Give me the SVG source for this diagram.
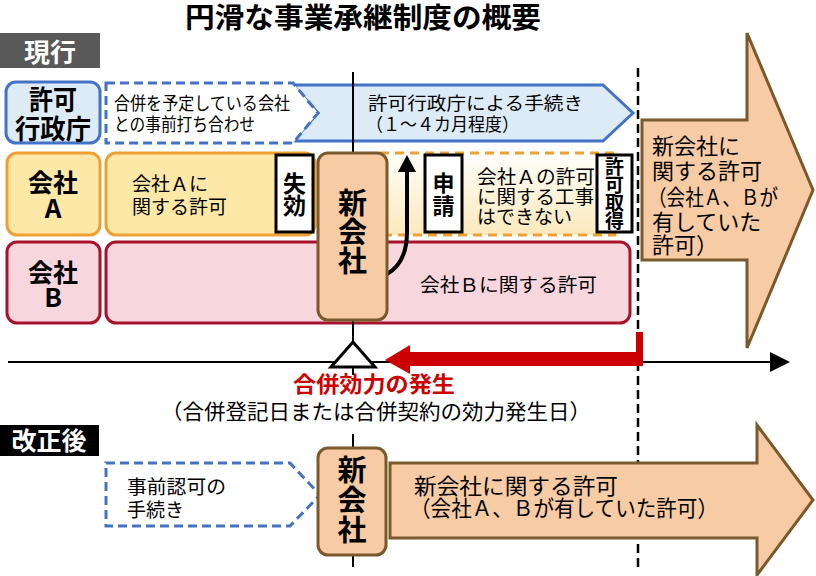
<svg xmlns="http://www.w3.org/2000/svg" width="816" height="576" viewBox="0 0 816 576">
<defs>
<style>
.t{font-family:"Noto Sans CJK JP","Noto Sans",sans-serif;fill:#000}
.b{font-weight:bold}
.bl{fill:#DDEBF7;stroke:#4472C4;stroke-width:3}
.bld{fill:#fff;stroke:#4472C4;stroke-width:3;stroke-dasharray:9 5}
.ya{fill:#FDE8A8;stroke:#EFA032;stroke-width:3}
.pk{fill:#F7D6DE;stroke:#A8122C;stroke-width:3}
.pe{fill:#F7CBA4;stroke:#7A5A2C;stroke-width:3}
.wb{fill:#fff;stroke:#000;stroke-width:3}
</style>
<linearGradient id="gA" x1="0" y1="0" x2="0" y2="1">
<stop offset="0" stop-color="#FFFEFA"/>
<stop offset="1" stop-color="#FBE9BD"/>
</linearGradient>
</defs>
<rect width="816" height="576" fill="#fff"/>

<g id="title"><text class="t b" x="363" y="28" font-size="28" text-anchor="middle" textLength="356" lengthAdjust="spacingAndGlyphs">円滑な事業承継制度の概要</text></g>

<g id="genko"><rect x="0" y="33" width="100" height="35" fill="#595959"/><text class="t b" x="50" y="62" font-size="26" text-anchor="middle" style="fill:#fff">現行</text></g>

<g id="gyosei-label"><rect class="bl" x="6" y="82" width="94" height="61" rx="10"/>
<text class="t b" font-size="27" text-anchor="middle"><tspan x="53" y="110" textLength="48" lengthAdjust="spacingAndGlyphs">許可</tspan><tspan x="53" y="139" textLength="76" lengthAdjust="spacingAndGlyphs">行政庁</tspan></text></g>

<g id="gyosei-proc"><path class="bl" d="M293,85 L603,85 L633,113 L603,141 L293,141 L318,113 Z"/>
<text class="t" font-size="18"><tspan x="368" y="110" textLength="215" lengthAdjust="spacingAndGlyphs">許可行政庁による手続き</tspan><tspan x="366" y="131" textLength="153" lengthAdjust="spacingAndGlyphs">（１～４カ月程度）</tspan></text></g>

<g id="pre-meeting"><path class="bld" d="M106,83 L293,83 L318,113 L293,143 L106,143 Z"/>
<text class="t" font-size="18"><tspan x="114" y="110" textLength="176" lengthAdjust="spacingAndGlyphs">合併を予定している会社</tspan><tspan x="114" y="131" textLength="141" lengthAdjust="spacingAndGlyphs">との事前打ち合わせ</tspan></text></g>

<g id="kaisha-a-label"><rect class="ya" x="7" y="153" width="93" height="82" rx="10"/>
<text class="t b" text-anchor="middle"><tspan x="53" y="192" font-size="25">会社</tspan><tspan x="53" y="218" font-size="26">A</tspan></text></g>

<g id="kaisha-a-permit"><rect class="ya" x="106" y="153" width="209" height="82" rx="10"/>
<text class="t" font-size="19"><tspan x="132" y="191">会社Ａに</tspan><tspan x="132" y="214">関する許可</tspan></text></g>

<g id="shikko"><rect class="wb" x="276" y="155" width="37" height="77"/>
<text class="t b" font-size="23" text-anchor="middle"><tspan x="294.5" y="192">失</tspan><tspan x="294.5" y="214">効</tspan></text></g>

<g id="kaisha-b-label"><rect class="pk" x="7" y="242" width="93" height="81" rx="10"/>
<text class="t b" text-anchor="middle"><tspan x="53" y="282" font-size="25">会社</tspan><tspan x="53" y="307" font-size="26">B</tspan></text></g>

<g id="kaisha-b-permit"><rect class="pk" x="106" y="242" width="524" height="81" rx="10"/>
<text class="t" x="420" y="292" font-size="19" textLength="177" lengthAdjust="spacingAndGlyphs">会社Ｂに関する許可</text></g>

<g id="a-pending"><rect x="380" y="153" width="235" height="82" fill="url(#gA)" stroke="#EFA032" stroke-width="3" stroke-dasharray="9 6"/>
<text class="t" font-size="19"><tspan x="477" y="184" textLength="118" lengthAdjust="spacingAndGlyphs">会社Ａの許可</tspan><tspan x="477" y="204" textLength="117" lengthAdjust="spacingAndGlyphs">に関する工事</tspan><tspan x="477" y="224">はできない</tspan></text></g>

<g id="connectors">
<line x1="353" y1="72" x2="353" y2="342" stroke="#000" stroke-width="2"/>
<line x1="353" y1="367" x2="353" y2="375" stroke="#000" stroke-width="2"/>
<line x1="353" y1="434" x2="353" y2="448" stroke="#000" stroke-width="2"/>
<line x1="353" y1="555" x2="353" y2="567" stroke="#000" stroke-width="2"/>
<line x1="638" y1="68" x2="638" y2="567" stroke="#000" stroke-width="2.5" stroke-dasharray="9 5"/>
<line x1="8" y1="362" x2="772" y2="362" stroke="#000" stroke-width="2"/>
<polygon points="770,352 790,362 770,372" fill="#000"/>
<path d="M385,360 L410,345 L410,352 L636,352 L636,332 L643,332 L643,366 L410,366 L410,374 Z" fill="#CC0000"/>
<path d="M387,274 C401,266 407,252 407,232 L407,170" fill="none" stroke="#000" stroke-width="4"/>
<polygon points="398,172 416,172 407,155" fill="#000"/>
</g>

<g id="shinsei"><rect class="wb" x="425" y="155" width="37" height="77"/>
<text class="t b" font-size="22" text-anchor="middle"><tspan x="443.5" y="191">申</tspan><tspan x="443.5" y="214">請</tspan></text></g>

<g id="kyoka-shutoku"><rect class="wb" x="597" y="155" width="35" height="77"/>
<text class="t b" font-size="19" text-anchor="middle"><tspan x="614.5" y="174">許</tspan><tspan x="614.5" y="192">可</tspan><tspan x="614.5" y="210">取</tspan><tspan x="614.5" y="228">得</tspan></text></g>

<g id="shinkaisha-top"><rect class="pe" x="318" y="153" width="69" height="167" rx="10"/>
<text class="t b" font-size="29" text-anchor="middle"><tspan x="352.5" y="214">新</tspan><tspan x="352.5" y="243">会</tspan><tspan x="352.5" y="272">社</tspan></text></g>

<g id="new-permit-top"><polygon class="pe" points="642,120 747,120 747,33 813,190 747,348 747,260 642,260"/>
<text class="t" font-size="22"><tspan x="652" y="154">新会社に</tspan><tspan x="652" y="179">関する許可</tspan><tspan x="648" y="205" textLength="130" lengthAdjust="spacingAndGlyphs">（会社Ａ、Ｂが</tspan><tspan x="652" y="230">有していた</tspan><tspan x="652" y="253">許可）</tspan></text></g>

<g id="timeline-mark"><polygon points="353,342 331,367 375,367" fill="#fff" stroke="#000" stroke-width="3"/></g>

<g id="merger-label">
<text class="t b" x="374" y="392" font-size="22" text-anchor="middle" style="fill:#CC0000" textLength="162" lengthAdjust="spacingAndGlyphs">合併効力の発生</text>
<text class="t" x="376" y="419" font-size="21" text-anchor="middle" textLength="430" lengthAdjust="spacingAndGlyphs">（合併登記日または合併契約の効力発生日）</text></g>

<g id="kaiseigo"><rect x="0" y="425" width="99" height="31" fill="#000"/><text class="t b" x="49" y="450" font-size="25" text-anchor="middle" style="fill:#fff">改正後</text></g>

<g id="prior-approval"><path class="bld" d="M106,463 L290,463 L320,495 L290,526 L106,526 Z"/>
<text class="t" font-size="19"><tspan x="127" y="494" textLength="99" lengthAdjust="spacingAndGlyphs">事前認可の</tspan><tspan x="127" y="517">手続き</tspan></text></g>

<g id="shinkaisha-bottom"><rect class="pe" x="318" y="448" width="68" height="107" rx="10"/>
<text class="t b" font-size="29" text-anchor="middle"><tspan x="352" y="481">新</tspan><tspan x="352" y="511">会</tspan><tspan x="352" y="541">社</tspan></text></g>

<g id="new-permit-bottom"><polygon class="pe" points="390,463 757,463 757,425 813,500 757,575 757,538 390,538"/>
<text class="t" font-size="22"><tspan x="414" y="494" textLength="204" lengthAdjust="spacingAndGlyphs">新会社に関する許可</tspan><tspan x="410" y="516" textLength="308" lengthAdjust="spacingAndGlyphs">（会社Ａ、Ｂが有していた許可）</tspan></text></g>
</svg>
